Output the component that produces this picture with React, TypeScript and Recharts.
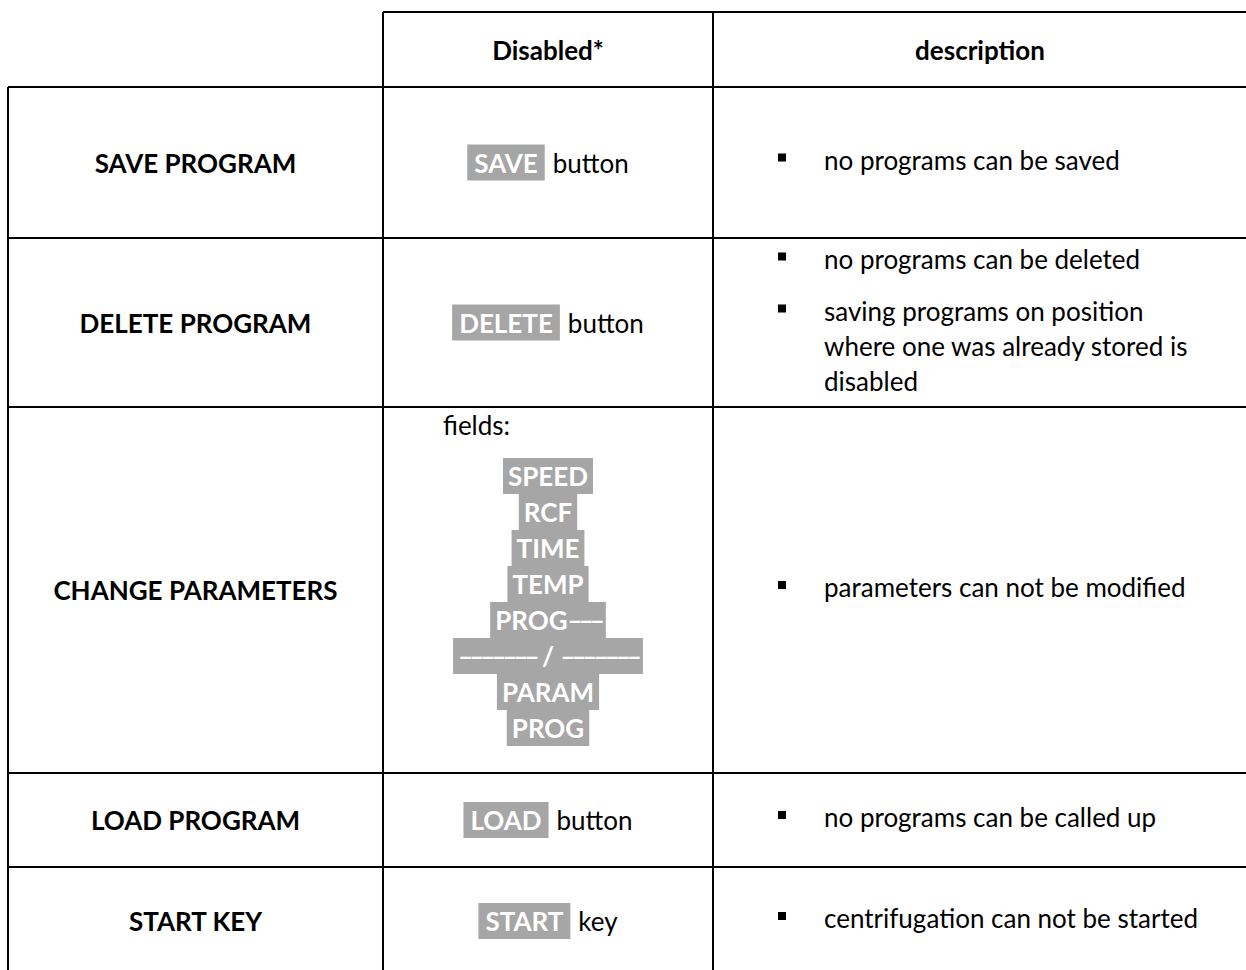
import { ScatterChart, Scatter, XAxis, YAxis, ReferenceLine } from 'recharts'

// table content
const headers = ['', 'Disabled*', 'description']
const functions = ['SAVE PROGRAM', 'DELETE PROGRAM', 'CHANGE PARAMETERS', 'LOAD PROGRAM', 'START KEY']
const disabledTags = ['SAVE', 'DELETE', '', 'LOAD', 'START']
const disabledNouns = ['button', 'button', '', 'button', 'key']
const fieldsLabel = 'fields:'
const fieldTags = ['SPEED', 'RCF', 'TIME', 'TEMP', 'PROG–––', '––––––– / –––––––', 'PARAM', 'PROG']
const descriptions: string[][][] = [
    [['no programs can be saved']],
    [['no programs can be deleted'], ['saving programs on position', 'where one was already stored is', 'disabled']],
    [['parameters can not be modified']],
    [['no programs can be called up']],
    [['centrifugation can not be started']],
]

// layout
const W = 1246
const H = 970
const COLS = [8, 383, 713, 1247]
const ROWS = [12, 87, 238, 407, 773, 867, 975]
const FONT = 'Lato, "Open Sans", sans-serif'
const FS = 26
const GREY = '#a6a6a6'
const LINE = 35
const ITEM_GAP = 17
const DASH_TIGHT = -4

let ctx: CanvasRenderingContext2D | null = null
const textWidth = (s: string, weight: string) => {
    if (!ctx) ctx = document.createElement('canvas').getContext('2d')
    if (!ctx) return s.length * FS * 0.55
    ctx.font = `${weight} ${FS}px Lato`
    const dashes = (s.match(/–/g) || []).length
    return ctx.measureText(s).width + dashes * DASH_TIGHT
}

const colMid = (c: number) => (COLS[c] + COLS[c + 1]) / 2
const rowMid = (r: number) => (ROWS[r] + ROWS[r + 1]) / 2

const headerData = headers.map((t, i) => ({ x: colMid(i), y: rowMid(0), text: t }))
const functionData = functions.map((t, i) => ({ x: colMid(0), y: rowMid(i + 1), text: t }))
const disabledData = disabledTags
    .map((t, i) => ({ x: colMid(1), y: rowMid(i + 1), tag: t, noun: disabledNouns[i] }))
    .filter(d => d.tag)
const fieldsData = [{ x: colMid(1), y: ROWS[3], tags: fieldTags }]
const descData = descriptions.map((items, i) => ({ x: COLS[2] + 65, y: rowMid(i + 1), items }))

const hLines = ROWS.slice(0, 6).map((y, i) => ({ y, x1: i === 0 ? COLS[1] : COLS[0], x2: COLS[3] }))
const vLines = COLS.map((x, i) => ({ x, y1: i === 0 ? ROWS[1] : ROWS[0], y2: ROWS[6] }))

const BoldText = (p: any) => (
    <text x={p.cx} y={p.cy} textAnchor="middle" dominantBaseline="central"
        fontFamily={FONT} fontSize={FS} fontWeight="bold" fill="#000">
        {p.payload.text}
    </text>
)

// dash runs get squeezed so they read as one long rule, like in the original
const tagParts = (text: string) =>
    text.split(/(–+)/).filter(Boolean).map((part, i) =>
        part[0] === '–'
            ? <tspan key={i} letterSpacing={DASH_TIGHT}>{part}</tspan>
            : <tspan key={i}>{part}</tspan>
    )

const Tag = ({ x, y, text, pad }: { x: number; y: number; text: string; pad: number }) => {
    const w = textWidth(text, 'bold') + pad * 2
    return (
        <g>
            <rect x={x} y={y - 18} width={w} height={36} fill={GREY} />
            <text x={x + pad} y={y} dominantBaseline="central"
                fontFamily={FONT} fontSize={FS} fontWeight="bold" fill="#fff">
                {tagParts(text)}
            </text>
        </g>
    )
}

const DisabledCell = (p: any) => {
    const { tag, noun } = p.payload
    const pad = 7
    const tw = textWidth(tag, 'bold') + pad * 2
    const gap = 8
    const total = tw + gap + textWidth(noun, 'normal')
    const left = p.cx - total / 2
    return (
        <g>
            <Tag x={left} y={p.cy} text={tag} pad={pad} />
            <text x={left + tw + gap} y={p.cy} dominantBaseline="central"
                fontFamily={FONT} fontSize={FS} fill="#000">
                {noun}
            </text>
        </g>
    )
}

const FieldsCell = (p: any) => {
    const tags: string[] = p.payload.tags
    const pad = 5
    return (
        <g>
            <text x={COLS[1] + 60} y={p.cy + 18} dominantBaseline="central"
                fontFamily={FONT} fontSize={FS} fill="#000">
                {fieldsLabel}
            </text>
            {tags.map((t, i) => {
                const w = textWidth(t, 'bold') + pad * 2
                return <Tag key={i} x={p.cx - w / 2} y={p.cy + 69 + i * 36} text={t} pad={pad} />
            })}
        </g>
    )
}

const DescCell = (p: any) => {
    const items: string[][] = p.payload.items
    const nLines = items.reduce((s, it) => s + it.length, 0)
    const blockH = (nLines - 1) * LINE + (items.length - 1) * ITEM_GAP
    let y = p.cy - blockH / 2 - 3
    const out: any[] = []
    items.forEach((lines, i) => {
        out.push(<rect key={`b${i}`} x={p.cx} y={y - 6} width={8} height={8} fill="#000" />)
        lines.forEach((l, j) => {
            out.push(
                <text key={`t${i}-${j}`} x={p.cx + 46} y={y} dominantBaseline="central"
                    fontFamily={FONT} fontSize={FS} fill="#000">
                    {l}
                </text>
            )
            y += LINE
        })
        y += ITEM_GAP
    })
    return <g>{out}</g>
}

export default function App() {
    return (
        <div style={{ position: 'absolute', left: 0, top: 0, background: '#fff' }}>
            <ScatterChart width={W} height={H} margin={{ top: 0, right: 0, bottom: 0, left: 0 }}>
                <XAxis type="number" dataKey="x" domain={[0, W]} hide />
                <YAxis type="number" dataKey="y" domain={[0, H]} reversed hide />
                {hLines.map((l, i) => (
                    <ReferenceLine key={`h${i}`} segment={[{ x: l.x1, y: l.y }, { x: l.x2, y: l.y }]}
                        stroke="#000" strokeWidth={2} ifOverflow="visible" />
                ))}
                {vLines.map((l, i) => (
                    <ReferenceLine key={`v${i}`} segment={[{ x: l.x, y: l.y1 }, { x: l.x, y: l.y2 }]}
                        stroke="#000" strokeWidth={2} ifOverflow="visible" />
                ))}
                <Scatter data={headerData} shape={BoldText} isAnimationActive={false} />
                <Scatter data={functionData} shape={BoldText} isAnimationActive={false} />
                <Scatter data={disabledData} shape={DisabledCell} isAnimationActive={false} />
                <Scatter data={fieldsData} shape={FieldsCell} isAnimationActive={false} />
                <Scatter data={descData} shape={DescCell} isAnimationActive={false} />
            </ScatterChart>
        </div>
    )
}
